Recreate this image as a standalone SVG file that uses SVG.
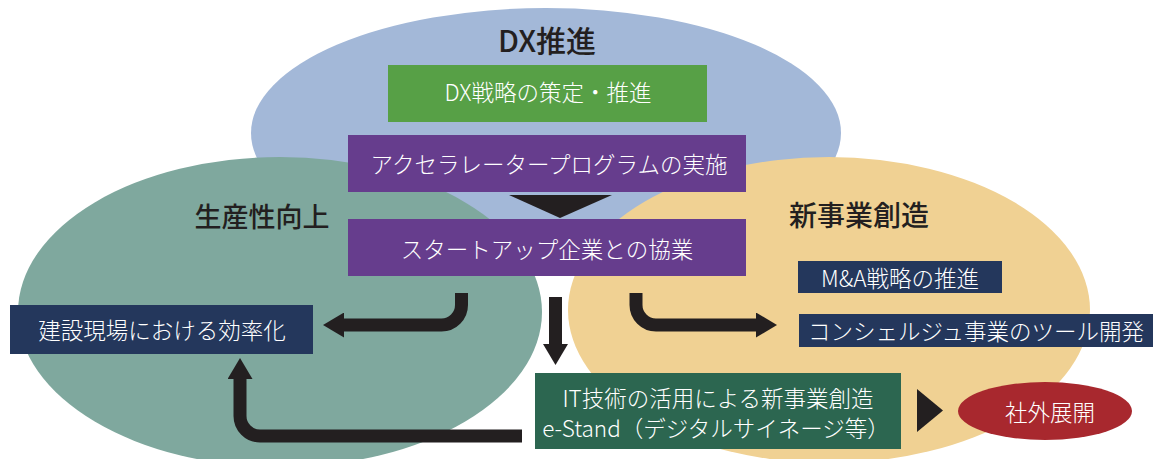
<svg xmlns="http://www.w3.org/2000/svg" width="1153" height="459" viewBox="0 0 1153 459">
<style>
text{font-family:"Noto Sans CJK JP","Noto Sans",sans-serif;text-anchor:middle;dominant-baseline:central}
.title{fill:#231f20;font-weight:500}
.lbl{fill:#ffffff;font-size:22.5px;font-weight:300}
.conn{fill:none;stroke:#231f20;stroke-width:13}
</style>
<defs>
<marker id="ah" markerUnits="userSpaceOnUse" viewBox="0 0 21 25" markerWidth="21" markerHeight="25" refX="1" refY="12.5" orient="auto">
<polygon points="0,0 21,12.5 0,25" fill="#231f20"/>
</marker>
</defs>
<g id="ellipses">
<ellipse id="dx-area" cx="546" cy="133" rx="295" ry="125" fill="#a3b8d8"/>
<ellipse id="prod-area" cx="280" cy="312" rx="262" ry="155" fill="#7fa89e"/>
<ellipse id="new-area" cx="829" cy="310" rx="261" ry="153" fill="#f0d193"/>
</g>
<text class="title" x="547" y="39" font-size="30">DX推進</text>
<text class="title" x="262" y="215" font-size="27">生産性向上</text>
<text class="title" x="859" y="214" font-size="28">新事業創造</text>
<g id="n-dx-strategy">
<rect x="388" y="65" width="319" height="57" fill="#57a046"/>
<text class="lbl" x="548" y="91" font-size="24">DX戦略の策定・推進</text>
</g>
<g id="n-accelerator">
<rect x="348" y="135" width="398" height="57" fill="#663d8d"/>
<text class="lbl" x="549" y="163">アクセラレータープログラムの実施</text>
</g>
<polygon id="tri-down" points="509,195 612,195 560,218" fill="#231f20"/>
<g id="n-startup">
<rect x="348" y="219" width="398" height="57" fill="#663d8d"/>
<text class="lbl" x="547" y="248">スタートアップ企業との協業</text>
</g>
<g id="n-site">
<rect x="10" y="305" width="303" height="49" fill="#24375c"/>
<text class="lbl" x="162" y="329" font-size="23">建設現場における効率化</text>
</g>
<g id="n-ma">
<rect x="798" y="261" width="204" height="32" fill="#24375c"/>
<text class="lbl" x="900" y="277" font-size="21.5">M&amp;A戦略の推進</text>
</g>
<g id="n-concierge">
<rect x="799" y="314" width="354" height="33" fill="#24375c"/>
<text class="lbl" x="976" y="330">コンシェルジュ事業のツール開発</text>
</g>
<g id="n-it">
<rect x="535" y="373" width="366" height="76" fill="#2c6650"/>
<text class="lbl" x="718" y="397" font-size="23">IT技術の活用による新事業創造</text>
<text class="lbl" x="716" y="427" font-size="22.5">e-Stand（デジタルサイネージ等）</text>
</g>
<polygon id="tri-right" points="917,389 943,410.5 917,432" fill="#231f20"/>
<g id="n-external">
<ellipse cx="1045" cy="411" rx="87" ry="29" fill="#a8282e"/>
<text class="lbl" x="1050" y="411" font-size="23">社外展開</text>
</g>
<g id="connectors">
<path class="conn" d="M461.5 293 V305 A20 20 0 0 1 441.5 325 H343" marker-end="url(#ah)"/>
<path class="conn" d="M555.5 297 V345" marker-end="url(#ah)"/>
<path class="conn" d="M636 293 V305 A20 20 0 0 0 656 325 H757" marker-end="url(#ah)"/>
<path class="conn" d="M522 436 H260 A20 20 0 0 1 240 416 V378" marker-end="url(#ah)"/>
</g>
</svg>
